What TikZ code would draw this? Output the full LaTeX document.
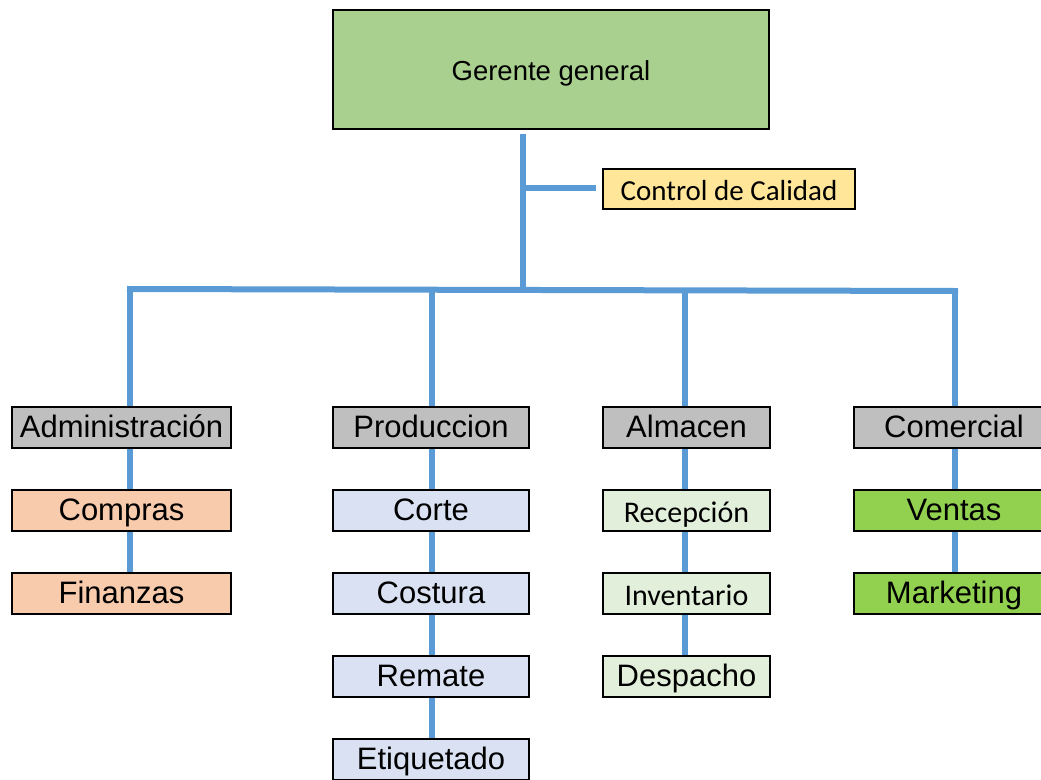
\documentclass[tikz,border=0pt]{standalone}
\usepackage{fontspec}
\setmainfont{Liberation Sans}
\newfontfamily\carlfont{Carlito}
\definecolor{linkblue}{HTML}{5B9BD5}
\definecolor{ggfill}{HTML}{A9D08E}
\definecolor{ccfill}{HTML}{FFE699}
\definecolor{greyfill}{HTML}{BFBFBF}
\definecolor{orgfill}{HTML}{F8CBAD}
\definecolor{prodfill}{HTML}{D9E1F2}
\definecolor{almfill}{HTML}{E2EFDA}
\definecolor{comfill}{HTML}{92D050}
\begin{document}
\begin{tikzpicture}[x=1pt,y=-1pt,
  box/.style={draw=black, line width=1.6pt, inner sep=0pt, minimum height=41pt,
    text height=30.5pt, text depth=10.5pt, font=\fontsize{31}{34}\selectfont},
  carlbox/.style={text height=32.5pt, text depth=8.5pt, font=\carlfont\fontsize{30}{32}\selectfont},
  link/.style={draw=linkblue, line width=6pt},
  admcol/.style={box, minimum width=219pt},
  prodcol/.style={box, minimum width=196pt},
  almcol/.style={box, minimum width=167pt},
  comcol/.style={box, minimum width=200pt}]
\useasboundingbox (0,0) rectangle (1041,779);
% top
\node[box, fill=ggfill, minimum width=436pt, minimum height=119pt, text height=70pt, text depth=49pt, font=\fontsize{27.5}{30}\selectfont] (gg) at (551,69.5) {Gerente general};
\node[box, fill=ccfill, minimum width=252pt, minimum height=40pt, text height=31pt, text depth=9pt, font=\carlfont\fontsize{29}{31}\selectfont] (cc) at (729,189) {Control de Calidad};
% row 1
\node[admcol, fill=greyfill] (adm) at (121.5,427.5) {Administración};
\node[prodcol, fill=greyfill] (prod) at (431,427.5) {Produccion};
\node[almcol, fill=greyfill] (alm) at (686.5,427.5) {Almacen};
\node[comcol, fill=greyfill] (com) at (954,427.5) {Comercial};
% row 2
\node[admcol, fill=orgfill] (comp) at (121.5,510.5) {Compras};
\node[prodcol, fill=prodfill] (corte) at (431,510.5) {Corte};
\node[almcol, fill=almfill, carlbox] (rec) at (686.5,510.5) {Recepción};
\node[comcol, fill=comfill] (ven) at (954,510.5) {Ventas};
% row 3
\node[admcol, fill=orgfill] (fin) at (121.5,593.5) {Finanzas};
\node[prodcol, fill=prodfill] (cost) at (431,593.5) {Costura};
\node[almcol, fill=almfill, carlbox] (inv) at (686.5,593.5) {Inventario};
\node[comcol, fill=comfill] (mkt) at (954,593.5) {Marketing};
% row 4
\node[prodcol, fill=prodfill] (rem) at (431,676.5) {Remate};
\node[almcol, fill=almfill] (desp) at (686.5,676.5) {Despacho};
% row 5
\node[prodcol, fill=prodfill] (etq) at (431,759.5) {Etiquetado};
% connector coordinates
\coordinate (trunk) at (523,290);
\coordinate (tee) at (523,188);
\coordinate (b1) at (130,289);
\coordinate (b2) at (432,290);
\coordinate (b3) at (685,290);
\coordinate (b4) at (955,291);
% connectors
\draw[link] ([yshift=-4pt]gg.south -| trunk) -- (trunk);
\draw[link] ([xshift=-2pt]tee) -- ([xshift=-6pt]cc.west |- tee);
\draw[link, line cap=rect] (b1) -- (b4);
\draw[link] (b1) -- (b1 |- adm.north);
\draw[link] (b2) -- (b2 |- prod.north);
\draw[link] (b3) -- (b3 |- alm.north);
\draw[link] (b4) -- (b4 |- com.north);
\draw[link] (adm.south -| b1) -- (comp.north -| b1);
\draw[link] (comp.south -| b1) -- (fin.north -| b1);
\draw[link] (prod.south -| b2) -- (corte.north -| b2);
\draw[link] (corte.south -| b2) -- (cost.north -| b2);
\draw[link] (cost.south -| b2) -- (rem.north -| b2);
\draw[link] (rem.south -| b2) -- (etq.north -| b2);
\draw[link] (alm.south -| b3) -- (rec.north -| b3);
\draw[link] (rec.south -| b3) -- (inv.north -| b3);
\draw[link] (inv.south -| b3) -- (desp.north -| b3);
\draw[link] (com.south -| b4) -- (ven.north -| b4);
\draw[link] (ven.south -| b4) -- (mkt.north -| b4);
\end{tikzpicture}
\end{document}
